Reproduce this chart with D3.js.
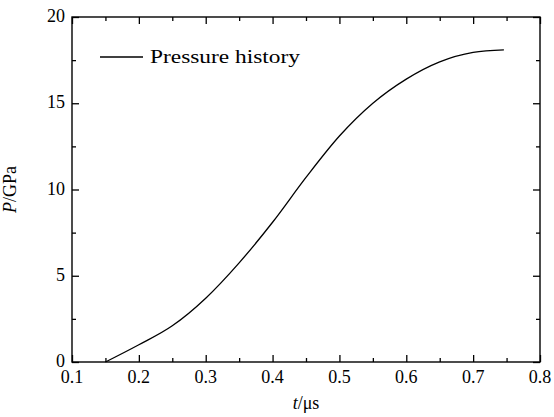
<!DOCTYPE html>
<html>
<head>
<meta charset="utf-8">
<script src="https://cdn.jsdelivr.net/npm/d3@7"></script>
<style>
  body { margin: 0; background: #fff; }
  svg { display: block; }
</style>
</head>
<body>
<div class="chart"></div>
<script>
// temps (µs) et pression (GPa)
const times = [0.15, 0.2, 0.25, 0.3, 0.35, 0.4, 0.45, 0.5, 0.55, 0.6, 0.65, 0.7, 0.746];
const pressures = [0, 1.0, 2.1, 3.7, 5.75, 8.1, 10.7, 13.1, 15.0, 16.4, 17.4, 17.95, 18.1];
const xTicks = [0.1, 0.2, 0.3, 0.4, 0.5, 0.6, 0.7, 0.8];
const yTicks = [0, 5, 10, 15, 20];
const legendLabel = 'Pressure history';

const FONT = '"Liberation Serif", "DejaVu Serif", serif';
const width = 554, height = 417;
const margin = { top: 17, right: 14, bottom: 55, left: 72 };
const innerWidth = width - margin.left - margin.right;
const innerHeight = height - margin.top - margin.bottom;

const data = times.map((t, i) => ({ t: t, p: pressures[i] }));

const svg = d3.select('.chart').append('svg')
    .attr('width', width)
    .attr('height', height)
    .attr('font-family', FONT);

const g = svg.append('g')
    .attr('transform', `translate(${margin.left},${margin.top})`);

// échelles
const x = d3.scaleLinear().domain([0.1, 0.8]).range([0, innerWidth]);
const y = d3.scaleLinear().domain([0, 20]).range([innerHeight, 0]);

const minorX = d3.range(0.15, 0.8, 0.1);
const minorY = d3.range(2.5, 20, 5);

// ticks vers l'intérieur sur les 4 côtés (sans labels)
function ticksOnly(sel) {
    sel.select('.domain').remove();
    sel.selectAll('line').attr('stroke', '#000').attr('stroke-width', 1.3);
    sel.selectAll('text').remove();
}

[[xTicks, 7], [minorX, 4]].forEach(([vals, size]) => {
    g.append('g').attr('transform', `translate(0,${innerHeight})`)
        .call(d3.axisBottom(x).tickValues(vals).tickSize(-size)).call(ticksOnly);
    g.append('g')
        .call(d3.axisTop(x).tickValues(vals).tickSize(-size)).call(ticksOnly);
});
[[yTicks, 7], [minorY, 4]].forEach(([vals, size]) => {
    g.append('g')
        .call(d3.axisLeft(y).tickValues(vals).tickSize(-size)).call(ticksOnly);
    g.append('g').attr('transform', `translate(${innerWidth},0)`)
        .call(d3.axisRight(y).tickValues(vals).tickSize(-size)).call(ticksOnly);
});

// labels des ticks
g.selectAll('.xlabel')
    .data(xTicks)
    .enter()
    .append('text')
    .attr('class', 'xlabel')
    .attr('x', d => x(d))
    .attr('y', innerHeight + 21)
    .attr('text-anchor', 'middle')
    .attr('font-size', 18)
    .text(d => d3.format('.1f')(d));

g.selectAll('.ylabel')
    .data(yTicks)
    .enter()
    .append('text')
    .attr('class', 'ylabel')
    .attr('x', -7)
    .attr('y', d => y(d) + 5)
    .attr('text-anchor', 'end')
    .attr('font-size', 18)
    .text(d => d);

// cadre
g.append('rect')
    .attr('width', innerWidth)
    .attr('height', innerHeight)
    .attr('fill', 'none')
    .attr('stroke', '#000')
    .attr('stroke-width', 1.4);

// courbe
const line = d3.line()
    .x(d => x(d.t))
    .y(d => y(d.p))
    .curve(d3.curveMonotoneX);

g.append('path')
    .datum(data)
    .attr('fill', 'none')
    .attr('stroke', '#000')
    .attr('stroke-width', 1.3)
    .attr('d', line);

// légende
const legendG = svg.append('g').attr('transform', 'translate(100,57)');
legendG.append('line')
    .attr('x1', 0).attr('x2', 43)
    .attr('stroke', '#000').attr('stroke-width', 1.3);
legendG.append('text')
    .attr('x', 50).attr('y', 6)
    .attr('font-size', 18)
    .attr('textLength', 150)
    .attr('lengthAdjust', 'spacingAndGlyphs')
    .text(legendLabel);

// titres des axes
const xLabel = svg.append('text')
    .attr('x', margin.left + innerWidth / 2)
    .attr('y', 409)
    .attr('text-anchor', 'middle')
    .attr('font-size', 18);
xLabel.append('tspan').attr('font-style', 'italic').text('t');
xLabel.append('tspan').text('/μs');

const yLabel = svg.append('text')
    .attr('transform', `translate(16,${margin.top + innerHeight / 2}) rotate(-90)`)
    .attr('text-anchor', 'middle')
    .attr('font-size', 18);
yLabel.append('tspan').attr('font-style', 'italic').text('P');
yLabel.append('tspan').text('/GPa');
</script>
</body>
</html>
